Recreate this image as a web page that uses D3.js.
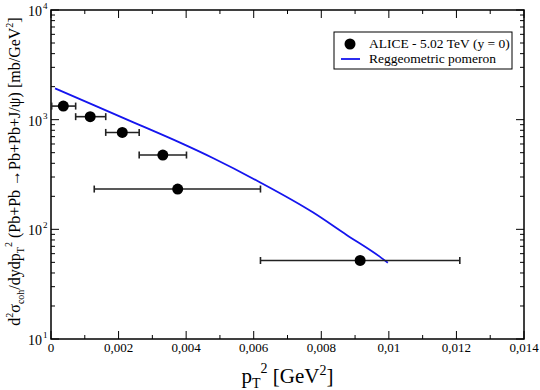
<!DOCTYPE html>
<html>
<head>
<meta charset="utf-8">
<script src="https://cdn.jsdelivr.net/npm/d3@7/dist/d3.min.js"></script>
<style>
  body { margin: 0; background: #fff; }
</style>
</head>
<body>
<div id="chart"></div>
<script>
// DATA
const ptX    = [0.000365, 0.00116, 0.00211, 0.00331, 0.00375, 0.00915];
const ptY    = [1330, 1065, 765, 476, 233, 52];
const ptXLo  = [0.00002, 0.00073, 0.00162, 0.00261, 0.00128, 0.0062];
const ptXHi  = [0.00073, 0.00162, 0.00261, 0.00401, 0.0062, 0.0121];
const ptYErr = [0, 0, 0, 0, 0, 4];

const curveX = [0.00012, 0.0013, 0.00263, 0.00382, 0.00479, 0.00618, 0.00775, 0.00875, 0.00973, 0.00997];
const curveY = [1930, 1345, 892, 617, 447, 269, 143, 89, 56.4, 49.6];

const xTicks = [0, 0.002, 0.004, 0.006, 0.008, 0.01, 0.012, 0.014];
const xTickLabels = ['0', '0,002', '0,004', '0,006', '0,008', '0,01', '0,012', '0,014'];
const yDecades = [1, 2, 3, 4];
const legendLabels = ['ALICE - 5.02 TeV (y = 0)', 'Reggeometric pomeron'];

drawChart();

function drawChart(){
  const W = 540, H = 390;
  const m = {left: 51, right: 16, top: 10, bottom: 51};
  const FONT = '"Liberation Serif", "Times New Roman", "DejaVu Serif", serif';

  const svg = d3.select('#chart').append('svg')
                .attr('width', W).attr('height', H)
                .attr('font-family', FONT)
                .style('font-family', FONT);

  const x = d3.scaleLinear().domain([0, 0.014]).range([m.left, W - m.right]);
  const y = d3.scaleLog().domain([10, 10000]).range([H - m.bottom, m.top]);

  const x0 = x.range()[0], x1 = x.range()[1];
  const y0 = y.range()[0], y1 = y.range()[1];

  // ticks on all four sides, pointing inward
  const g = svg.append('g').attr('stroke', '#000').attr('stroke-width', 1);
  const xMinor = d3.range(0, 15).map(i => i * 0.001);
  xMinor.forEach((v, i) => {
    const len = i % 2 === 0 ? 8 : 4;
    g.append('line').attr('x1', x(v)).attr('x2', x(v)).attr('y1', y0).attr('y2', y0 - len);
    g.append('line').attr('x1', x(v)).attr('x2', x(v)).attr('y1', y1).attr('y2', y1 + len);
  });
  yDecades.forEach(e => {
    for (let k = 1; k <= 9; k++) {
      const v = k * Math.pow(10, e);
      if (v > 10000) break;
      const len = k === 1 ? 8 : 4;
      g.append('line').attr('x1', x0).attr('x2', x0 + len).attr('y1', y(v)).attr('y2', y(v));
      g.append('line').attr('x1', x1).attr('x2', x1 - len).attr('y1', y(v)).attr('y2', y(v));
    }
  });

  // frame
  svg.append('rect')
     .attr('x', x0).attr('y', y1)
     .attr('width', x1 - x0).attr('height', y0 - y1)
     .attr('fill', 'none').attr('stroke', '#000').attr('stroke-width', 1.5);

  // x tick labels
  svg.append('g').selectAll('text')
     .data(xTicks).enter()
     .append('text')
       .attr('x', d => x(d))
       .attr('y', y0 + 13)
       .attr('text-anchor', 'middle')
       .attr('font-size', 13)
       .text((d, i) => xTickLabels[i]);

  // y tick labels 10^n
  const yl = svg.append('g');
  yDecades.forEach(e => {
    yl.append('text')
      .attr('x', 42).attr('y', y(Math.pow(10, e)) + 6)
      .attr('text-anchor', 'end')
      .attr('font-size', 14)
      .text('10');
    yl.append('text')
      .attr('x', 43).attr('y', y(Math.pow(10, e)) - 1)
      .attr('font-size', 9)
      .text(e);
  });

  // curve
  const line = d3.line()
                 .x((d, i) => x(curveX[i]))
                 .y(d => y(d))
                 .curve(d3.curveMonotoneX);
  svg.append('path')
     .datum(curveY)
     .attr('d', line)
     .attr('fill', 'none')
     .attr('stroke', '#1515ee')
     .attr('stroke-width', 1.8);

  // error bars
  const eb = svg.append('g').attr('stroke', '#222').attr('stroke-width', 1.6);
  ptX.forEach((v, i) => {
    const cy = y(ptY[i]);
    eb.append('line').attr('x1', x(ptXLo[i])).attr('x2', x(ptXHi[i])).attr('y1', cy).attr('y2', cy);
    eb.append('line').attr('x1', x(ptXLo[i])).attr('x2', x(ptXLo[i])).attr('y1', cy - 3.5).attr('y2', cy + 3.5);
    eb.append('line').attr('x1', x(ptXHi[i])).attr('x2', x(ptXHi[i])).attr('y1', cy - 3.5).attr('y2', cy + 3.5);
    if (ptYErr[i] > 0) {
      const ya = y(ptY[i] + ptYErr[i]), yb = y(ptY[i] - ptYErr[i]);
      eb.append('line').attr('x1', x(v)).attr('x2', x(v)).attr('y1', ya).attr('y2', yb);
      eb.append('line').attr('x1', x(v) - 3).attr('x2', x(v) + 3).attr('y1', ya).attr('y2', ya);
      eb.append('line').attr('x1', x(v) - 3).attr('x2', x(v) + 3).attr('y1', yb).attr('y2', yb);
    }
  });

  // points
  svg.append('g').selectAll('circle')
     .data(ptY).enter()
     .append('circle')
       .attr('cx', (d, i) => x(ptX[i]))
       .attr('cy', d => y(d))
       .attr('r', 5.5)
       .attr('fill', '#000');

  // legend
  const lg = svg.append('g');
  lg.append('rect')
    .attr('x', 334).attr('y', 32).attr('width', 178).attr('height', 37)
    .attr('fill', '#fff').attr('stroke', '#000').attr('stroke-width', 1);
  lg.append('circle').attr('cx', 350).attr('cy', 44).attr('r', 5.5).attr('fill', '#000');
  lg.append('text').attr('x', 369).attr('y', 48).attr('font-size', 13.5).text(legendLabels[0]);
  lg.append('line').attr('x1', 341).attr('x2', 360).attr('y1', 59).attr('y2', 59)
    .attr('stroke', '#1515ee').attr('stroke-width', 1.8);
  lg.append('text').attr('x', 369).attr('y', 63).attr('font-size', 13.5).text(legendLabels[1]);

  // x title
  const xt = svg.append('text')
                .attr('x', x(0.007)).attr('y', 383)
                .attr('text-anchor', 'middle')
                .attr('font-size', 21);
  xt.append('tspan').text('p');
  xt.append('tspan').attr('font-size', 14).attr('dy', 5).text('T');
  xt.append('tspan').attr('font-size', 14).attr('dy', -15).text('2');
  xt.append('tspan').attr('dy', 10).text(' [GeV');
  xt.append('tspan').attr('font-size', 14).attr('dy', -8).text('2');
  xt.append('tspan').attr('dy', 8).text(']');

  // y title
  const yt = svg.append('text')
                .attr('transform', 'translate(20,' + ((y0 + y1) / 2 - 3) + ') rotate(-90)')
                .attr('text-anchor', 'middle')
                .attr('font-size', 16);
  yt.append('tspan').text('d');
  yt.append('tspan').attr('font-size', 10).attr('dy', -7).text('2');
  yt.append('tspan').attr('dy', 7).text('σ');
  yt.append('tspan').attr('font-size', 10).attr('dy', 4).text('coh');
  yt.append('tspan').attr('dy', -4).text('/dydp');
  yt.append('tspan').attr('font-size', 10).attr('dy', 4).text('T');
  yt.append('tspan').attr('font-size', 10).attr('dy', -12).text('2');
  yt.append('tspan').attr('dy', 8).text(' (Pb+Pb →Pb+Pb+J/ψ) [mb/GeV');
  yt.append('tspan').attr('font-size', 10).attr('dy', -7).text('2');
  yt.append('tspan').attr('dy', 7).text(']');
}
</script>
</body>
</html>
